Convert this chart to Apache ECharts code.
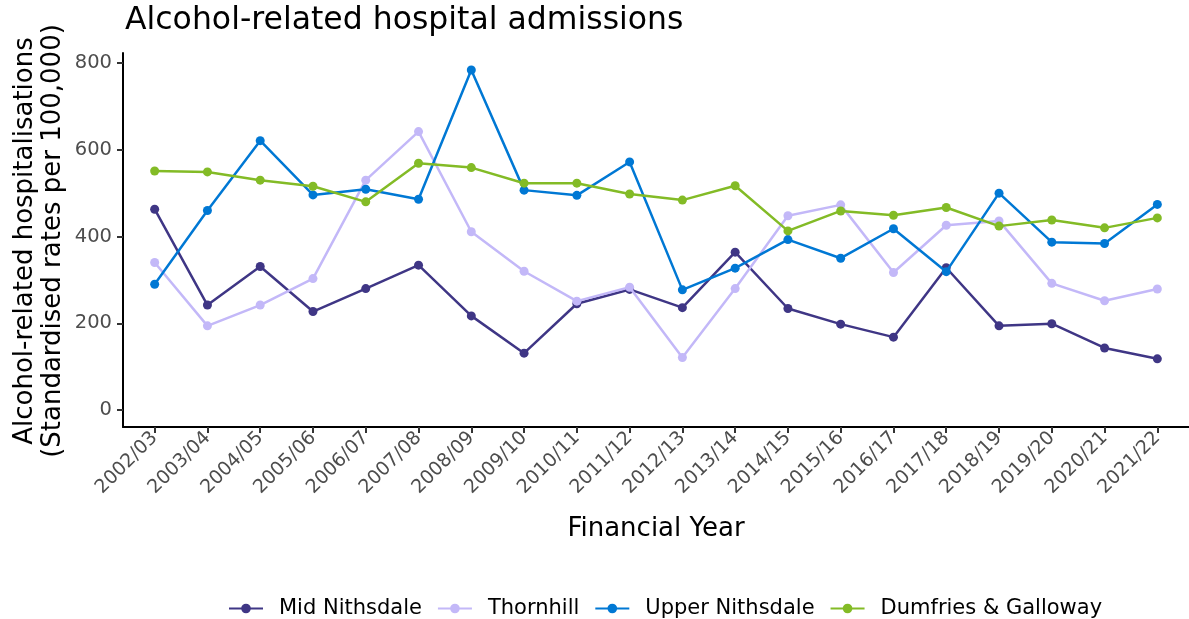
<!DOCTYPE html>
<html>
<head>
<meta charset="utf-8">
<script src="https://cdn.jsdelivr.net/npm/echarts@6/dist/echarts.min.js"></script>
<style>
html,body{margin:0;padding:0;background:#fff;}
#chart{width:1189px;height:619px;}
</style>
</head>
<body>
<div id="chart"></div>
<script>
const categories = ['2002/03','2003/04','2004/05','2005/06','2006/07','2007/08','2008/09','2009/10','2010/11','2011/12','2012/13','2013/14','2014/15','2015/16','2016/17','2017/18','2018/19','2019/20','2020/21','2021/22'];
const midNithsdale = [463,242,331,227,280,334,217,131,245,278,236,364,234,198,168,328,194,199,143,118];
const thornhill = [340,194,242,303,530,642,411,320,251,283,121,280,448,473,317,426,436,292,252,279];
const upperNithsdale = [290,460,621,496,509,486,784,507,495,572,277,327,393,350,418,319,500,387,384,474];
const dumfriesGalloway = [551,549,530,516,480,569,559,523,523,498,484,517,413,459,449,467,424,438,420,443];
const yTicks = [0,200,400,600,800];
const seriesNames = ['Mid Nithsdale','Thornhill','Upper Nithsdale','Dumfries & Galloway'];
const seriesColors = ['#3F3685','#C3B8F8','#0078D4','#83BB26'];

const font = 'DejaVu Sans';
const chart = echarts.init(document.getElementById('chart'), null, {renderer:'canvas'});
const allData = [midNithsdale, thornhill, upperNithsdale, dumfriesGalloway];
const xIdx = categories.map((c,i)=>i);

chart.setOption({
  animation:false,
  backgroundColor:'#fff',
  textStyle:{fontFamily:font},
  title:{
    text:'Alcohol-related hospital admissions',
    left:120, top:0,
    textStyle:{fontFamily:font, fontSize:31.5, fontWeight:'normal', color:'#000'}
  },
  grid:{left:123, right:0, top:53, bottom:192, containLabel:false},
  xAxis:{
    type:'value', min:-0.6, max:19.6,
    splitLine:{show:false},
    axisLine:{show:true, onZero:false, lineStyle:{color:'#000', width:2}},
    axisTick:{show:true, length:6, customValues:xIdx, lineStyle:{color:'#333', width:2}},
    axisLabel:{customValues:xIdx, rotate:45, color:'#4D4D4D', fontSize:19, fontFamily:font, margin:8,
      formatter:v=>categories[Math.round(v)]},
    name:'Financial Year', nameLocation:'middle', nameGap:89,
    nameTextStyle:{fontFamily:font, fontSize:26, color:'#000'}
  },
  yAxis:{
    type:'value', min:-39.2, max:823.2,
    splitLine:{show:false},
    axisLine:{show:true, onZero:false, lineStyle:{color:'#000', width:2}},
    axisTick:{show:true, length:6, customValues:yTicks, lineStyle:{color:'#333', width:2}},
    axisLabel:{customValues:yTicks, color:'#4D4D4D', fontSize:19.5, fontFamily:font, margin:11}
  },
  graphic:[{
    type:'text', x:39, y:241, rotation:Math.PI/2,
    style:{text:'Alcohol-related hospitalisations\n(Standardised rates per 100,000)',
      font:'26px "DejaVu Sans"', fill:'#000', textAlign:'center', textVerticalAlign:'middle', lineHeight:28}
  }],
  legend:{
    top:593, left:223,
    itemWidth:34, itemHeight:12, itemGap:15,
    textStyle:{fontFamily:font, fontSize:21, color:'#000', padding:[0,0,0,11]},
    data:seriesNames
  },
  series: seriesNames.map((n,k)=>({
    name:n, type:'line',
    data: allData[k].map((v,i)=>[i,v]),
    symbol:'circle', symbolSize:9,
    lineStyle:{width:2.5, color:seriesColors[k]},
    itemStyle:{color:seriesColors[k]},
    z: 2 + k
  }))
});
</script>
</body>
</html>
